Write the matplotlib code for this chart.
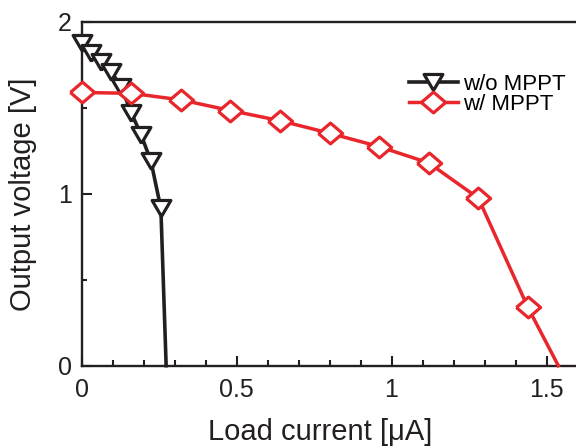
import matplotlib
matplotlib.use("Agg")
import matplotlib.pyplot as plt
from matplotlib.ticker import MultipleLocator, FuncFormatter

plt.rcParams['font.family'] = ['Liberation Sans', 'DejaVu Sans']

# Load current [uA] vs output voltage [V]
i_wo = [0.0, 0.032, 0.064, 0.096, 0.128, 0.16, 0.192, 0.224, 0.256, 0.273]
v_wo = [1.877, 1.82, 1.768, 1.71, 1.623, 1.473, 1.345, 1.19, 0.915, 0.0]

i_w = [0.0, 0.16, 0.32, 0.48, 0.64, 0.80, 0.96, 1.12, 1.28, 1.44, 1.538]
v_w = [1.59, 1.585, 1.547, 1.485, 1.426, 1.353, 1.275, 1.18, 0.975, 0.339, 0.0]

labels = ['w/o MPPT', 'w/ MPPT']

ink = '#231F20'
red = '#E8262B'

# slightly wide triangle / diamond markers
tri = [(0, -1), (-1.17, 1), (1.17, 1), (0, -1)]
dia = [(-1.17, 0), (0, 1), (1.17, 0), (0, -1), (-1.17, 0)]

fig = plt.figure(figsize=(5.76, 4.48), dpi=100)
ax = fig.add_axes([0.1415, 0.1837, 0.8585, 0.7672])

ax.plot(i_wo, v_wo, color=ink, lw=2.6, marker=tri, ms=13.5, mew=2.3,
        mfc='white', mec=ink, markevery=list(range(len(i_wo) - 1)),
        clip_on=False, zorder=3, label=labels[0])
ax.plot(i_w, v_w, color=red, lw=2.5, marker=dia, ms=17.5, mew=2.3,
        mfc='white', mec=red, markevery=list(range(len(i_w) - 1)),
        clip_on=False, zorder=4, label=labels[1])

ax.set_xlim(0, 1.595)
ax.set_ylim(0, 2)

ax.xaxis.set_major_locator(MultipleLocator(0.5))
ax.xaxis.set_minor_locator(MultipleLocator(0.1))
ax.yaxis.set_major_locator(MultipleLocator(1))
ax.yaxis.set_minor_locator(MultipleLocator(0.5))
fmt = FuncFormatter(lambda v, p: '%g' % v)
ax.xaxis.set_major_formatter(fmt)
ax.yaxis.set_major_formatter(fmt)

ax.tick_params(which='both', direction='in', color=ink, width=1.5,
               labelsize=18, labelcolor=ink)
ax.tick_params(axis='x', which='major', length=7, pad=8.5)
ax.tick_params(axis='x', which='minor', length=4.5)
ax.tick_params(axis='y', which='major', length=7, pad=7)
ax.tick_params(axis='y', which='minor', length=3.6)

ax.spines['right'].set_visible(False)
for s in ['left', 'bottom', 'top']:
    ax.spines[s].set_color(ink)
    ax.spines[s].set_linewidth(1.7)

ax.set_xlabel('Load current [μA]', fontsize=21, color=ink)
ax.set_ylabel('Output voltage [V]', fontsize=21, color=ink)
ax.xaxis.set_label_coords(0.482, -0.152)
ax.yaxis.set_label_coords(-0.09, 0.5)

ax.legend(loc='upper left', bbox_to_anchor=(0.662, 0.85), frameon=False,
          fontsize=16, handlelength=2.2, handletextpad=0.25,
          labelspacing=-0.02, borderpad=0, borderaxespad=0, numpoints=1)

fig.savefig('out.png', dpi=100)
